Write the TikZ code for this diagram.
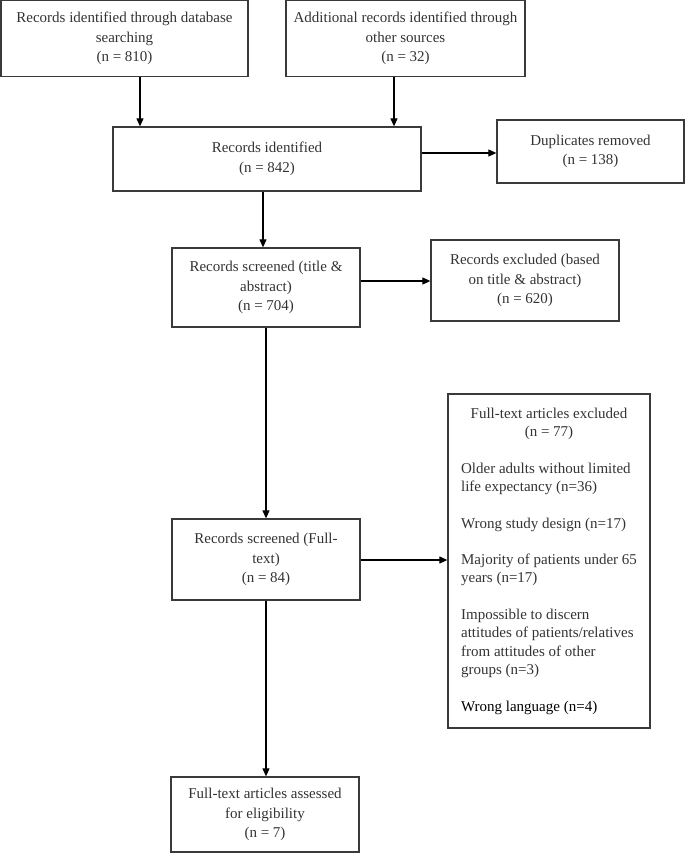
\documentclass[tikz,border=0pt]{standalone}
\usepackage{fontspec}
\setmainfont{Liberation Serif}
\usetikzlibrary{arrows.meta}
\definecolor{txt}{HTML}{333333}
\definecolor{edge}{HTML}{3A3A3A}
\begin{document}
\begin{tikzpicture}[x=1pt,y=-1pt,
  box/.style={draw=edge, line width=1.3pt, inner sep=0pt, align=center, text=txt,
    font=\fontsize{15}{19.5}\selectfont},
  arr/.style={draw=black, line width=1.1pt, -{Triangle[length=8pt,width=7pt]}}]
\useasboundingbox (0,0) rectangle (685,854);
\node[box, minimum width=247, minimum height=76] (b1) at (124.5,38.5)
  {Records identified through database\\searching\\(n = 810)};
\node[box, minimum width=239, minimum height=76] (b2) at (405.5,38.5)
  {Additional records identified through\\other sources\\(n = 32)};
\node[box, minimum width=308, minimum height=64] (b3) at (267,159)
  {Records identified\\(n = 842)};
\node[box, minimum width=187, minimum height=63] (dup) at (590.5,151.5)
  {Duplicates removed\\(n = 138)};
\node[box, minimum width=188, minimum height=79] (b5) at (266,287.5)
  {Records screened (title \&\\abstract)\\(n = 704)};
\node[box, minimum width=188, minimum height=81] (b6) at (525,280.5)
  {Records excluded (based\\on title \& abstract)\\(n = 620)};
\node[box, minimum width=188, minimum height=81] (b7) at (266,559.5)
  {Records screened (Full-\\text)\\(n = 84)};
\node[box, minimum width=202, minimum height=334] (b8) at (549,561)
  {\fontsize{15}{18.3}\selectfont
   \begin{tabular}{@{}l@{}}
   \multicolumn{1}{@{}c@{}}{Full-text articles excluded}\\
   \multicolumn{1}{@{}c@{}}{(n = 77)}\\
   \\
   Older adults without limited\\
   life expectancy (n=36)\\
   \\
   Wrong study design (n=17)\\
   \\
   Majority of patients under 65\\
   years (n=17)\\
   \\
   Impossible to discern\\
   attitudes of patients/relatives\\
   from attitudes of other\\
   groups (n=3)\\
   \\
   \textcolor{black}{Wrong language (n=4)}
   \end{tabular}};
\node[box, minimum width=188, minimum height=75] (b9) at (265,814.5)
  {Full-text articles assessed\\for eligibility\\(n = 7)};
\coordinate (a1) at (140,0);
\coordinate (a2) at (394,0);
\coordinate (a3) at (263,0);
\coordinate (a4) at (266,0);
\coordinate (h1) at (0,153);
\coordinate (h2) at (0,281);
\coordinate (h3) at (0,560);
\draw[arr] (b1.south -| a1) -- (b3.north -| a1);
\draw[arr] (b2.south -| a2) -- (b3.north -| a2);
\draw[arr] (b3.east |- h1) -- (dup.west |- h1);
\draw[arr] (b3.south -| a3) -- (b5.north -| a3);
\draw[arr] (b5.east |- h2) -- (b6.west |- h2);
\draw[arr] (b5.south -| a4) -- (b7.north -| a4);
\draw[arr] (b7.east |- h3) -- (b8.west |- h3);
\draw[arr] (b7.south -| a4) -- (b9.north -| a4);
\end{tikzpicture}
\end{document}
